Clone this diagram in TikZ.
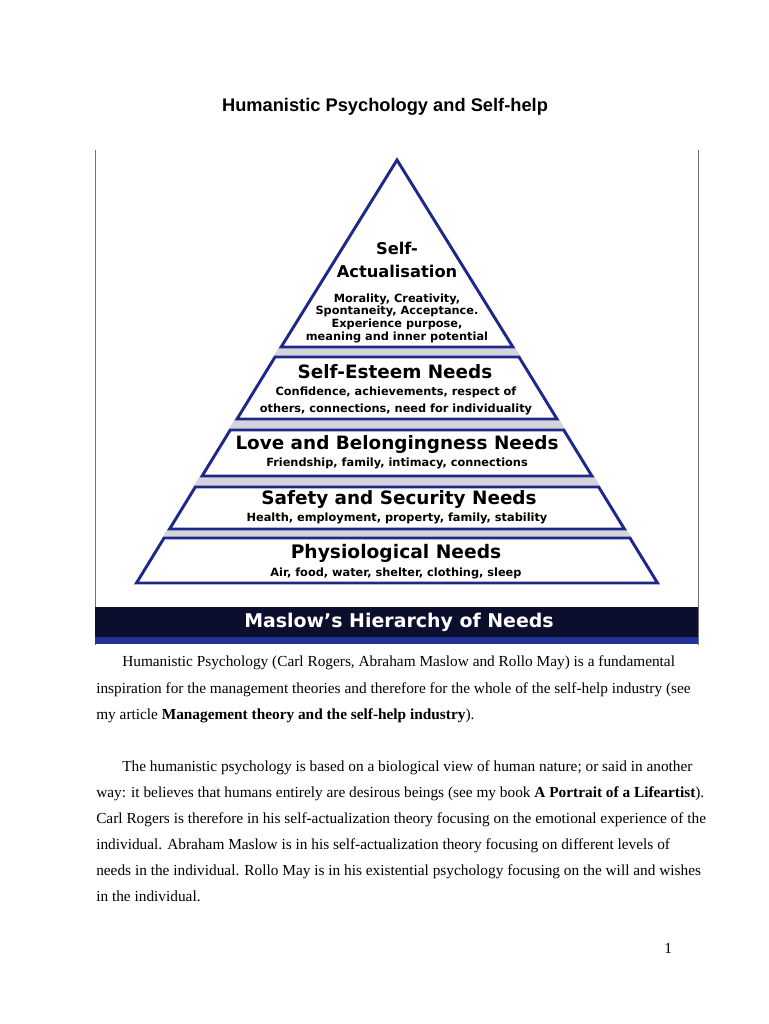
\documentclass[tikz,border=0pt]{standalone}
\usepackage{fontspec}
\setmainfont{Liberation Serif}
\newfontfamily\headfont{Liberation Sans}
\newfontfamily\pyrfont{DejaVu Sans}
\definecolor{PyrBlue}{RGB}{30,40,136}
\definecolor{PyrGap}{RGB}{212,212,220}
\definecolor{BannerNavy}{RGB}{12,14,46}
\definecolor{BannerBlue}{RGB}{32,50,150}
\tikzset{
  tier/.style={draw=PyrBlue,line width=2.2pt,fill=white},
  gapband/.style={fill=PyrGap},
  head/.style={font=\pyrfont\bfseries\fontsize{13.8}{16}\selectfont,inner sep=0pt},
  tophead/.style={font=\pyrfont\bfseries\fontsize{12.2}{14}\selectfont,inner sep=0pt},
  sub/.style={font=\pyrfont\bfseries\fontsize{8.5}{9.5}\selectfont,inner sep=0pt,align=center},
  body/.style={font=\fontsize{11.5}{13}\selectfont,anchor=base west,inner sep=0pt}
}

\begin{document}
\begin{tikzpicture}[x=0.75pt,y=-0.75pt]
  \useasboundingbox[fill=white] (0,0) rectangle (768,1024);
  \node[font=\headfont\bfseries\fontsize{13.7}{16}\selectfont,inner sep=0pt] (title) at (385,107) {Humanistic Psychology and Self-help};

  \draw[black!55,line width=0.6pt] (95,150) -- (95,645) (698,150) -- (698,645);
  \fill[BannerNavy] (95,607) rectangle (698,637);
  \fill[BannerBlue] (95,637) rectangle (698,644);
  \node[font=\pyrfont\bfseries\fontsize{14.2}{16}\selectfont,text=white,inner sep=0pt] (banner) at (399,622) {Maslow’s Hierarchy of Needs};

  \foreach \ya/\yb in {347/357,419/430,476/487,529/538}{
    \fill[gapband] ({395-.613*(\ya-158)},\ya) -- ({399+.613*(\ya-158)},\ya) -- ({399+.613*(\yb-158)},\yb) -- ({395-.613*(\yb-158)},\yb) -- cycle;
  }
  \filldraw[tier] (397,160) -- ({397+.613*189},347) -- ({397-.613*189},347) -- cycle;
  \foreach \ya/\yb in {357/419,430/476,487/529,538/583}{
    \filldraw[tier] ({397-.613*(\ya-158)},\ya) -- ({397+.613*(\ya-158)},\ya) -- ({397+.613*(\yb-158)},\yb) -- ({397-.613*(\yb-158)},\yb) -- cycle;
  }

  \node[tophead] (selfa) at (397,248) {Self-};
  \node[tophead] (selfb) at (397,271) {Actualisation};
  \node[sub] (selfsub) at (397,318) {Morality, Creativity,\\Spontaneity, Acceptance.\\Experience purpose,\\meaning and inner potential};
  \node[head] (esteem) at (395,372) {Self-Esteem Needs};
  \node[sub,font=\pyrfont\bfseries\fontsize{8.5}{12.8}\selectfont] (esteemsub) at (396,401) {Confidence, achievements, respect of\\others, connections, need for individuality};
  \node[head] (love) at (397,444) {Love and Belongingness Needs};
  \node[sub] (lovesub) at (397,463) {Friendship, family, intimacy, connections};
  \node[head] (safety) at (399,499) {Safety and Security Needs};
  \node[sub] (safetysub) at (397,518) {Health, employment, property, family, stability};
  \node[head,font=\pyrfont\bfseries\fontsize{14}{16}\selectfont] (physio) at (396,553) {Physiological Needs};
  \node[sub] (physiosub) at (396,573) {Air, food, water, shelter, clothing, sleep};

  \node[body] (p1a) at (122,666) {Humanistic Psychology (Carl Rogers, Abraham Maslow and Rollo May) is a fundamental};
  \node[body] (p1b) at (96,693) {inspiration for the management theories and therefore for the whole of the self-help industry (see};
  \node[body] (p1c) at (96,719) {my article \textbf{Management theory and the self-help industry}).};
  \node[body] (p2a) at (122,771) {The humanistic psychology is based on a biological view of human nature; or said in another};
  \node[body] (p2b) at (96,797) {way: it believes that humans entirely are desirous beings (see my book \textbf{A Portrait of a Lifeartist}).};
  \node[body] (p2c) at (96,823) {Carl Rogers is therefore in his self-actualization theory focusing on the emotional experience of the};
  \node[body] (p2d) at (96,849) {individual. Abraham Maslow is in his self-actualization theory focusing on different levels of};
  \node[body] (p2e) at (96,875) {needs in the individual. Rollo May is in his existential psychology focusing on the will and wishes};
  \node[body] (p2f) at (96,901) {in the individual.};
  \node[body] (pagenum) at (664,953) {1};
\end{tikzpicture}
\end{document}
